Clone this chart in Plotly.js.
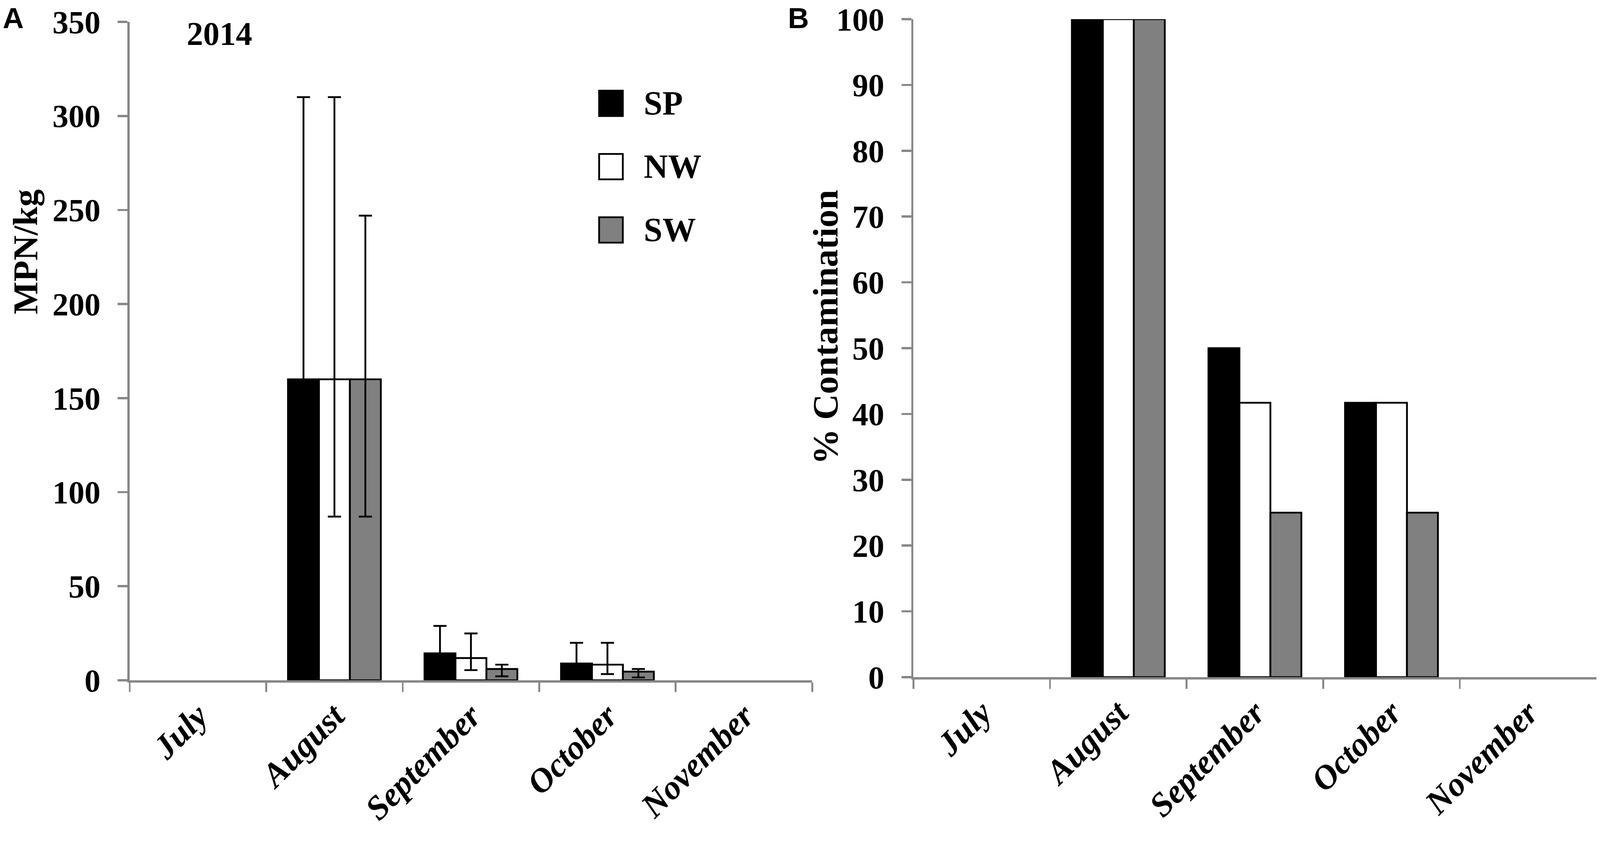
<!DOCTYPE html>
<html>
<head>
<meta charset="utf-8">
<script src="https://cdn.plot.ly/plotly-3.0.1.min.js"></script>
<style>
  html, body { margin: 0; padding: 0; background: #fff; overflow: hidden; }
</style>
</head>
<body>
<div id="chart"></div>
<script>
// categories
var months = ['July', 'August', 'September', 'October', 'November'];
var sites = ['SP', 'NW', 'SW'];
var siteColors = ['#000000', '#ffffff', '#808080'];

// panel A: MPN/kg with asymmetric error bars
var mpnSP = [null, 160, 14.3, 8.9, null];
var mpnNW = [null, 160, 11.8, 8.3, null];
var mpnSW = [null, 160, 6.0, 4.6, null];
var errUpSP = [null, 150, 14.6, 11.0, null];
var errUpNW = [null, 150, 13.1, 11.6, null];
var errUpSW = [null, 87, 2.3, 1.4, null];
var errDnSP = [null, 73, 7.0, 4.0, null];
var errDnNW = [null, 73, 6.4, 5.0, null];
var errDnSW = [null, 73, 3.9, 3.1, null];

// panel B: % contamination
var pctSP = [null, 100, 50, 41.7, null];
var pctNW = [null, 100, 41.7, 41.7, null];
var pctSW = [null, 100, 25, 25, null];

var mpn = [mpnSP, mpnNW, mpnSW];
var errUp = [errUpSP, errUpNW, errUpSW];
var errDn = [errDnSP, errDnNW, errDnSW];
var pct = [pctSP, pctNW, pctSW];

// layout is measured on a 4393x2160 sheet, then scaled to the window
var REF_W = 4393, REF_H = 2160;
var W = window.innerWidth || REF_W;
var H = window.innerHeight || REF_H;
var k = Math.min(W / REF_W, H / REF_H);
function px(v) { return v * k; }
function fx(x) { return x / REF_W; }
function fy(y) { return 1 - y / REF_H; }

var chartDiv = document.getElementById('chart');
chartDiv.style.width = W + 'px';
chartDiv.style.height = H + 'px';

var serif = 'Liberation Serif, Times New Roman, serif';
var axisGray = '#878787';

var data = [];
for (var i = 0; i < sites.length; i++) {
  data.push({
    type: 'bar', x: months, y: mpn[i], name: sites[i],
    xaxis: 'x', yaxis: 'y', showlegend: false,
    marker: { color: siteColors[i], line: { color: '#000', width: px(5) } },
    error_y: { type: 'data', symmetric: false, array: errUp[i], arrayminus: errDn[i],
               color: '#000', thickness: px(5), width: px(18) }
  });
}
for (var i = 0; i < sites.length; i++) {
  data.push({
    type: 'bar', x: months, y: pct[i], name: sites[i],
    xaxis: 'x2', yaxis: 'y2', showlegend: false,
    marker: { color: siteColors[i], line: { color: '#000', width: px(5) } }
  });
}

function xAxis(domain, anchor) {
  return {
    domain: domain, anchor: anchor, type: 'category', range: [-0.5, 4.5],
    showline: true, linecolor: axisGray, linewidth: px(6),
    ticks: 'outside', tickson: 'boundaries', ticklen: px(26), tickwidth: px(5), tickcolor: axisGray,
    tickangle: -45, ticklabelstandoff: px(12), ticklabeloverflow: 'allow',
    tickfont: { family: serif, size: px(93), weight: 'bold', style: 'italic', color: '#000' },
    showgrid: false, zeroline: false, fixedrange: true, automargin: false
  };
}
function yAxis(domain, anchor, range, dtick) {
  return {
    domain: domain, anchor: anchor, range: range, dtick: dtick,
    showline: true, linecolor: axisGray, linewidth: px(6),
    ticks: 'outside', ticklen: px(27), tickwidth: px(6), tickcolor: axisGray,
    ticksuffix: '\u00a0\u200a', ticklabeloverflow: 'allow',
    tickfont: { family: serif, size: px(88), weight: 'bold', color: '#000' },
    showgrid: false, zeroline: false, fixedrange: true, automargin: false
  };
}

var sansBold = { family: 'Liberation Sans, Arial, sans-serif', size: px(80), weight: 'bold' };
var annotations = [
  { text: 'A', x: fx(37), y: fy(2), yanchor: 'top', font: sansBold },
  { text: 'B', x: fx(2192), y: fy(2), yanchor: 'top', font: sansBold },
  { text: '2014', x: fx(603), y: fy(86), font: { family: serif, size: px(90), weight: 'bold' } },
  { text: 'MPN/kg', x: fx(70), y: fy(644), textangle: -90, font: { family: serif, size: px(95), weight: 'bold' } },
  { text: '% Contamination', x: fx(2267), y: fy(837), textangle: -90, font: { family: serif, size: px(98), weight: 'bold' } }
];
annotations.forEach(function(a) {
  a.xref = 'paper'; a.yref = 'paper'; a.showarrow = false;
  a.xanchor = 'center'; a.yanchor = a.yanchor || 'middle';
  a.font = Object.assign({ color: '#000' }, a.font);
});

// legend keys drawn by hand so the squares match the reference size
var shapes = [];
var legTop = 232, legStep = 162, legBox = 65;
for (var i = 0; i < sites.length; i++) {
  var boxTop = legTop + i * legStep;
  shapes.push({
    type: 'rect', xref: 'paper', yref: 'paper',
    x0: fx(1645), x1: fx(1645 + legBox),
    y0: fy(boxTop), y1: fy(boxTop + legBox),
    fillcolor: siteColors[i], line: { color: '#000', width: px(5) }
  });
  annotations.push({
    text: sites[i], xref: 'paper', yref: 'paper', showarrow: false,
    x: fx(1765), y: fy(boxTop + legBox / 2), xanchor: 'left', yanchor: 'middle',
    font: { family: serif, size: px(92), weight: 'bold', color: '#000' }
  });
}

var layout = {
  width: W, height: H,
  margin: { l: 0, r: 0, t: 0, b: 0, pad: 0 },
  paper_bgcolor: '#fff', plot_bgcolor: 'rgba(0,0,0,0)',
  barmode: 'group', bargap: 0.32, bargroupgap: 0,
  showlegend: false,
  xaxis: xAxis([fx(356), fx(2230)], 'y'),
  yaxis: yAxis([fy(1741), fy(56)], 'x', [0, 350], 50),
  xaxis2: xAxis([fx(2508), fx(4383)], 'y2'),
  yaxis2: yAxis([fy(1733), fy(49)], 'x2', [0, 100], 10),
  annotations: annotations,
  shapes: shapes
};

Plotly.newPlot('chart', data, layout, { displayModeBar: false, staticPlot: true });
</script>
</body>
</html>
